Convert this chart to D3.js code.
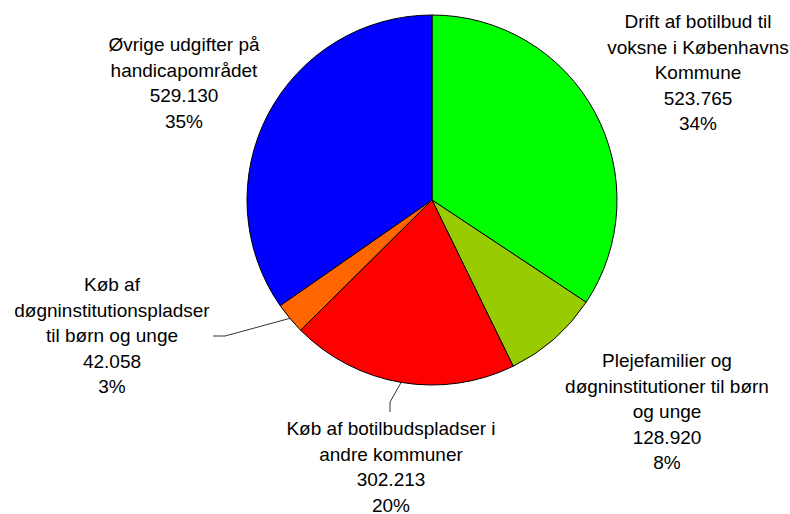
<html>
<script src="https://cdnjs.cloudflare.com/ajax/libs/d3/7.8.5/d3.min.js"></script>
<style>
  body { margin: 0; background: #fff; }
  text { font-family: "Liberation Sans", Arial, sans-serif; font-size: 19px; fill: #000; }
</style>
<body>
<svg width="790" height="514"></svg>
<script>
// data
var categories = [
  ["Drift af botilbud til", "voksne i Københavns", "Kommune"],
  ["Plejefamilier og", "døgninstitutioner til børn", "og unge"],
  ["Køb af botilbudspladser i", "andre kommuner"],
  ["Køb af", "døgninstitutionspladser", "til børn og unge"],
  ["Øvrige udgifter på", "handicapområdet"]
];
var values = [523765, 128920, 302213, 42058, 529130];
var colors = ["#00ff00", "#99cc00", "#ff0000", "#ff6600", "#0000ff"];

// layout of the labels (centre x, first baseline) and leader lines
var labelPos = [[698, 28], [667, 367], [391, 435], [112, 291], [184, 51]];
var leaders = [null, null, [[390, 402], [390, 412]], [[225, 336], [213, 336]], null];

var cx = 432, cy = 200, r = 185, lineH = 25.5;

var loc = d3.formatLocale({decimal: ",", thousands: ".", grouping: [3], currency: ["", " kr."]});
var fmt = loc.format(",d");
var total = d3.sum(values);

var svg = d3.select("svg");
var g = svg.append("g").attr("transform", "translate(" + cx + "," + cy + ")");

var pie = d3.pie().sort(null)(values);
var arc = d3.arc().innerRadius(0).outerRadius(r);
var edge = d3.arc().innerRadius(r).outerRadius(r);

g.selectAll("path").data(pie).enter().append("path")
  .attr("d", arc)
  .attr("fill", function(d, i) { return colors[i]; })
  .attr("stroke", "#000")
  .attr("stroke-width", 1);

// leader lines
pie.forEach(function(d, i) {
  if (!leaders[i]) return;
  var p = edge.centroid(d);
  var pts = [[cx + p[0], cy + p[1]]].concat(leaders[i]);
  svg.append("path")
    .attr("d", d3.line()(pts))
    .attr("fill", "none")
    .attr("stroke", "#000")
    .attr("stroke-width", 0.8);
});

// labels
categories.forEach(function(lines, i) {
  var all = lines.concat([fmt(values[i]), Math.round(values[i] / total * 100) + "%"]);
  var t = svg.append("text")
    .attr("text-anchor", "middle")
    .attr("x", labelPos[i][0])
    .attr("y", labelPos[i][1]);
  all.forEach(function(s, k) {
    t.append("tspan").attr("x", labelPos[i][0]).attr("y", labelPos[i][1] + k * lineH).text(s);
  });
});
</script>
</body>
</html>
